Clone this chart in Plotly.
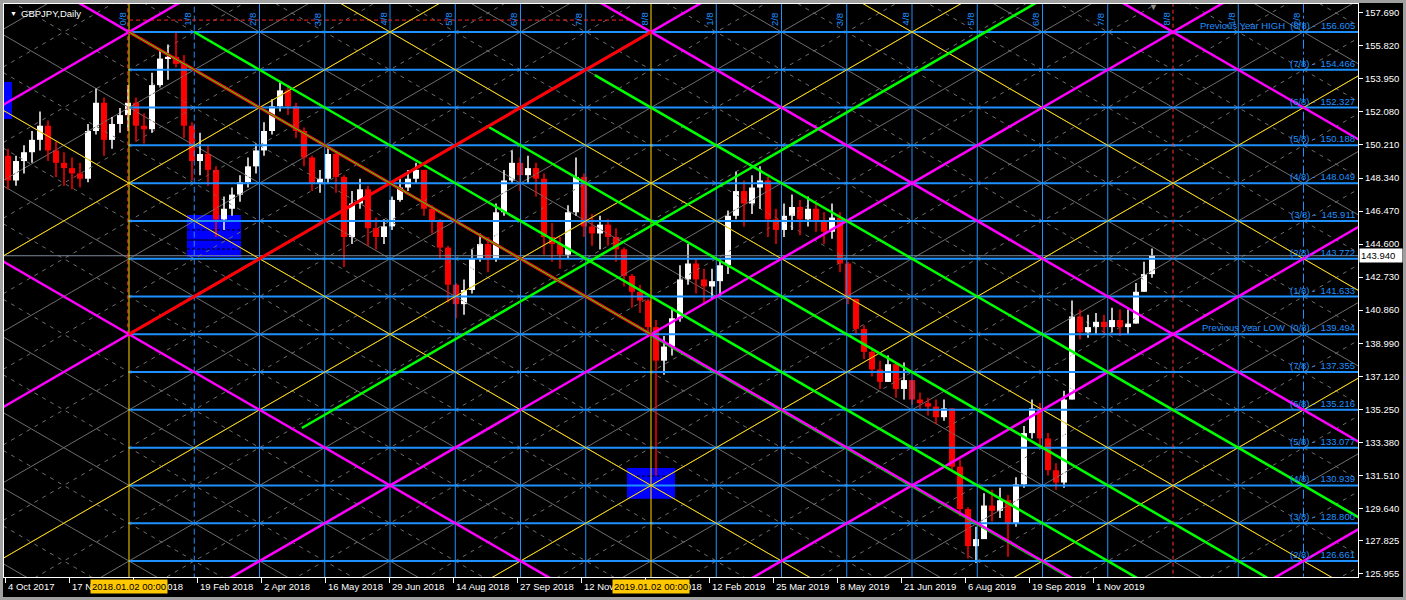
import plotly.graph_objects as go

# ---------------- data ----------------
BARS_PER_CANDLE = 4
first_open = 149.6
closes = [148.2,149.3,149.8,150.5,151.3,149.9,149.2,148.9,148.6,148.3,
          151.0,152.6,150.5,151.4,151.9,152.6,151.3,151.1,153.6,155.1,
          155.2,154.8,151.3,149.3,149.7,148.8,146.0,146.6,147.4,148.1,
          149.0,149.9,151.0,152.4,153.3,152.4,151.0,149.5,148.0,148.3,
          149.7,148.4,145.0,146.9,147.7,145.5,145.0,145.6,147.1,147.8,
          148.3,148.8,146.6,145.9,144.4,142.3,141.2,142.0,143.8,144.6,
          143.8,146.4,148.2,149.2,148.5,148.9,148.3,145.0,144.6,144.0,
          146.4,148.4,145.6,145.2,145.7,145.0,144.3,142.8,141.9,141.4,
          139.9,138.0,138.8,140.4,142.6,143.5,142.6,142.2,142.5,143.4,
          146.2,147.6,146.9,147.8,148.2,146.0,145.4,146.2,146.7,146.0,
          146.6,145.9,145.3,146.1,143.5,141.5,139.8,138.5,137.5,136.8,
          137.8,136.4,136.9,135.8,135.6,135.4,134.8,135.3,132.0,129.6,
          127.5,127.9,129.8,129.5,130.1,128.8,131.0,133.9,135.3,133.6,
          131.8,131.1,135.8,140.5,139.6,139.9,140.2,139.9,140.3,139.9,
          140.1,141.9,142.9,143.94]
highs = [150.0,149.6,150.2,151.0,152.1,151.6,150.4,149.8,149.5,149.2,
         151.4,153.4,152.9,151.8,152.3,153.6,152.9,152.0,154.3,155.6,
         155.9,156.62,155.3,151.5,150.9,150.2,149.0,147.3,147.8,148.5,
         149.5,150.3,151.5,152.8,153.75,153.6,152.6,151.2,149.6,148.8,
         150.1,149.9,148.5,147.6,148.3,147.9,146.1,146.0,147.3,148.3,
         148.8,149.2,148.8,146.8,146.0,144.5,142.4,142.6,144.3,145.2,
         145.0,146.9,148.8,149.9,149.5,149.6,149.2,148.6,145.8,145.0,
         146.8,149.5,148.6,146.3,146.2,146.0,145.5,144.4,142.9,142.3,
         141.5,140.3,139.4,141.0,143.4,144.6,143.8,143.2,143.2,143.8,
         146.5,148.7,148.2,148.5,149.0,148.4,146.6,146.9,147.4,147.1,
         147.3,146.9,146.4,146.9,146.4,143.6,141.5,140.0,138.7,138.0,
         138.3,137.9,137.9,136.9,136.2,135.9,135.8,135.8,135.0,132.4,
         129.7,128.6,130.5,130.7,130.8,130.4,131.4,134.3,135.8,135.6,
         133.9,132.2,136.3,141.4,140.9,140.6,140.7,140.6,141.0,140.9,
         140.9,142.4,143.6,144.35]
lows = [147.7,147.9,148.6,149.2,149.9,149.3,148.4,147.9,147.7,147.8,
        148.1,150.8,149.6,150.0,150.9,151.0,150.4,150.3,150.9,153.5,
        153.9,154.6,150.6,148.2,148.5,147.9,145.0,145.4,146.2,147.0,
        147.8,148.6,149.6,150.8,152.1,151.9,150.6,149.0,147.6,147.5,
        148.0,147.5,143.3,144.6,146.6,144.5,144.3,144.6,145.4,147.0,
        147.6,148.0,146.2,145.2,143.8,141.3,140.4,140.6,141.8,143.6,
        143.0,143.6,146.2,148.0,147.6,148.0,147.3,144.0,143.6,143.2,
        143.8,146.2,145.0,144.5,144.3,144.5,143.6,142.2,141.0,140.7,
        139.5,131.5,137.2,138.3,140.2,142.3,141.8,141.3,141.5,141.6,
        142.9,146.0,145.6,146.3,146.6,145.0,144.6,145.0,145.4,145.1,
        145.6,145.3,144.6,144.9,143.0,141.2,139.5,138.1,137.1,136.4,
        136.9,135.9,135.8,135.5,135.2,134.9,134.4,134.6,131.8,129.2,
        126.8,126.55,127.9,128.9,129.1,126.9,128.6,130.8,133.6,133.2,
        131.5,130.7,130.8,135.8,139.2,139.3,139.5,139.5,139.6,139.4,
        139.5,140.2,141.9,142.7]

murrey_levels = [156.605,154.466,152.327,150.188,148.049,145.911,143.772,141.633,
                 139.494,137.355,135.216,133.077,130.939,128.800,126.661]
murrey_names = ["(8/8)","(7/8)","(6/8)","(5/8)","(4/8)","(3/8)","(2/8)","(1/8)",
                "(0/8)","(7/8)","(6/8)","(5/8)","(4/8)","(3/8)","(2/8)"]
murrey_prefix = {0: "Previous Year HIGH", 8: "Previous Year LOW"}

price_ticks = [157.690,155.820,153.950,152.080,150.210,148.340,146.470,144.600,142.730,
               140.860,138.990,137.120,135.250,133.380,131.510,129.640,127.825,125.955]
date_idx = [0,32,64,96,128,160,192,224,256,288,320,352,384,416,448,480,512,544]
date_labels = ["4 Oct 2017","17 Nov 2017","4 Jan 2018","19 Feb 2018","2 Apr 2018",
               "16 May 2018","29 Jun 2018","14 Aug 2018","27 Sep 2018","12 Nov 2018",
               "27 Dec 2018","12 Feb 2019","25 Mar 2019","8 May 2019","21 Jun 2019",
               "6 Aug 2019","19 Sep 2019","1 Nov 2019"]
year_marks = [(62, "2018.01.02 00:00"), (323, "2019.01.02 00:00")]
bid_price = 143.940
prev_high_line = (62, 314, 157.28)

# Gann / Murrey time grid: 0/8 on 2018.01.02 (bar 62), 8/8 one year (261 bars) later
T0 = 62
TU = 261 / 8
P8 = 156.605
PS = (156.605 - 139.494) / 8
time_labels = ["0/8","1/8","2/8","3/8","4/8","5/8","6/8","7/8","8/8",
               "1/8","2/8","3/8","4/8","5/8","6/8","7/8","8/8","1/8","2/8"]

magenta_up = [0, 8, 16, 24, 32]
magenta_dn = [8, 0, -8, -16]
yellow_up = [4, 12, 20, 28]
yellow_dn = [4, -4, -12]
green_dn = [(-1, 1.0), (-3, 5.5), (-6, 7.14)]
green_up = [(13.13, 2.65)]

blue_rects = [(-6, 3.5, 151.68, 153.78), (91, 118, 143.87, 146.25), (311, 335, 130.18, 131.93)]

# ---------------- figure ----------------
FONT = "Liberation Sans, Arial, sans-serif"
BLUE = "#1e90ff"
fig = go.Figure()


def pt(u, v):
    return T0 + TU * u, P8 - PS * v


def up(c, u0, u1):
    return [pt(u0, c - u0), pt(u1, c - u1)]


def dn(c, u0, u1):
    return [pt(u0, c + u0), pt(u1, c + u1)]


def add_lines(segs, color, width, dash="solid"):
    xs, ys = [], []
    for (x0, y0), (x1, y1) in segs:
        xs += [x0, x1, None]
        ys += [y0, y1, None]
    fig.add_trace(go.Scatter(x=xs, y=ys, mode="lines", hoverinfo="skip", showlegend=False,
                             line=dict(color=color, width=width, dash=dash)))


ULO, UHI = -3, 21
# gray lattice
add_lines([up(c, ULO, UHI) for c in range(-4, 36, 2)] + [dn(c, ULO, UHI) for c in range(-22, 20, 2)],
          "#6e6e6e", 1)
add_lines([up(c, ULO, UHI) for c in range(-3, 35, 2)] + [dn(c, ULO, UHI) for c in range(-21, 19, 2)],
          "#6e6e6e", 1, "4px,5px")

# candles
B = BARS_PER_CANDLE
opens = [first_open] + closes[:-1]
for bull, col in [(True, "#ffffff"), (False, "#ff0000")]:
    wx, wy, bx, bb, bh = [], [], [], [], []
    for k, (o, h, l, c) in enumerate(zip(opens, highs, lows, closes)):
        if (c >= o) != bull:
            continue
        xc = k * B + (B - 1) / 2
        wx += [xc, xc, None]
        wy += [min(l, o, c), max(h, o, c), None]
        bx.append(xc)
        bb.append(min(o, c))
        bh.append(max(abs(c - o), 0.06))
    fig.add_trace(go.Scatter(x=wx, y=wy, mode="lines", line=dict(color=col, width=1.5),
                             hoverinfo="skip", showlegend=False))
    fig.add_trace(go.Bar(x=bx, y=bh, base=bb, width=B * 0.75, marker=dict(color=col, line=dict(width=0)),
                         hoverinfo="skip", showlegend=False))

# bid line
add_lines([((-1, bid_price), (700, bid_price))], "#7a8a99", 1)
# Murrey horizontal levels
add_lines([((T0, p), (700, p)) for p in murrey_levels], BLUE, 2)
# time lines
solid_v, dash_v, dd_v = [], [], []
for n in range(1, 20):
    if n in (8, 16):
        continue
    x = T0 + TU * n
    seg = ((x, 120), (x, 160))
    if n == 1:
        dash_v.append(seg)
    elif n == 18:
        dd_v.append(seg)
    else:
        solid_v.append(seg)
add_lines(solid_v, BLUE, 1)
add_lines(dash_v, BLUE, 1, "6px,3px")
add_lines(dd_v, BLUE, 1, "dashdot")
add_lines([((T0 - 0.6, 139.494), (T0 - 0.6, 160)), ((T0 + TU * 16, 120), (T0 + TU * 16, 160))],
          "#ff3030", 1, "4px,3px")
add_lines([((T0, 120), (T0, 160)), ((T0 + TU * 8, 120), (T0 + TU * 8, 160))], "#ffd700", 1)
add_lines([((prev_high_line[0], prev_high_line[2]), (prev_high_line[1], prev_high_line[2]))],
          "#ff2020", 1, "4px,3px")

# diagonal Gann lines
add_lines([up(c, ULO, UHI) for c in yellow_up] + [dn(c, ULO, UHI) for c in yellow_dn], "#ffd700", 1)
add_lines([up(c, ULO, UHI) for c in magenta_up] + [dn(c, ULO, UHI) for c in magenta_dn], "#ff00ff", 2.5)
add_lines([dn(c, u0, UHI) for c, u0 in green_dn] + [up(c, u0, UHI) for c, u0 in green_up], "#00ff00", 2.5)
add_lines([up(8, 0, 8), dn(0, 0, 8)], "#ff0000", 3)
add_lines([dn(0, 0, 8)], "#00ff00", 1)
add_lines([[(x, y - 0.1) for x, y in dn(0, 8, UHI)]], "#00d000", 1)

# rectangles
shapes = []
for x0, x1, y0, y1 in blue_rects:
    shapes.append(dict(type="rect", xref="x", yref="y", x0=x0, x1=x1, y0=y0, y1=y1,
                       fillcolor="#0000ff", line=dict(width=0), layer="below"))
shapes.append(dict(type="line", xref="x", yref="y", x0=91, x1=118, y0=144.83, y1=144.83,
                   line=dict(color="black", width=1), layer="below"))
for yy in (145.40, 144.32):
    shapes.append(dict(type="line", xref="x", yref="y", x0=91, x1=118, y0=yy, y1=yy,
                       line=dict(color="black", width=1, dash="3px,2px"), layer="below"))
shapes.append(dict(type="line", xref="x", yref="y", x0=316, x1=330, y0=131.47, y1=131.47,
                   line=dict(color="black", width=1, dash="3px,2px"), layer="below"))
# outer window frame
shapes.append(dict(type="rect", xref="paper", yref="paper",
                   x0=(1.5 - 4) / 1354, x1=(1404.5 - 4) / 1354,
                   y0=(577 - 598.5) / 573, y1=(577 - 1.5) / 573,
                   line=dict(color="#a0a0a0", width=3), fillcolor="rgba(0,0,0,0)"))

ann = []
# Murrey labels
for i, (p, nm) in enumerate(zip(murrey_levels, murrey_names)):
    txt = f"{nm} -\u00a0 {p:.3f}"
    if i in murrey_prefix:
        txt = murrey_prefix[i] + "\u00a0 " + txt
    ann.append(dict(xref="paper", x=1, xanchor="right", xshift=-1, yref="y", y=p, yanchor="bottom",
                    yshift=-1, text=txt, showarrow=False, font=dict(family=FONT, size=9.5, color=BLUE)))
# time labels
for n, t in enumerate(time_labels):
    ann.append(dict(xref="x", x=T0 + TU * n, xshift=-7, yref="paper", y=1, yanchor="top", yshift=-7,
                    text=t, textangle=-90, showarrow=False, font=dict(family=FONT, size=9.5, color=BLUE)))
# date labels
for xi, t in zip(date_idx, date_labels):
    ann.append(dict(xref="x", x=xi, xanchor="left", xshift=1, yref="paper", y=0, yanchor="top", yshift=-2,
                    text=t, showarrow=False, font=dict(family=FONT, size=9.5, color="#ffffff")))
for xi, t in year_marks:
    ann.append(dict(xref="x", x=xi, xanchor="center", yref="paper", y=0, yanchor="top", yshift=-2,
                    text=t, showarrow=False, bgcolor="#ffc800", borderpad=1,
                    font=dict(family=FONT, size=9.5, color="#000000")))
# bid label
ann.append(dict(xref="paper", x=1, xanchor="left", xshift=1, yref="y", y=bid_price, yanchor="middle",
                text=f"{bid_price:.3f}", showarrow=False, bgcolor="#ffffff", borderpad=1, width=40, align="left",
                font=dict(family=FONT, size=9.5, color="#000000")))
# title
ann.append(dict(xref="paper", x=0, xanchor="left", xshift=15, yref="paper", y=1, yanchor="middle", yshift=-9,
                text="GBPJPY,Daily", showarrow=False, font=dict(family=FONT, size=9.5, color="#ffffff")))
ann.append(dict(xref="paper", x=0, xanchor="left", xshift=4, yref="paper", y=1, yanchor="middle", yshift=-9,
                text="\u25bc", showarrow=False, font=dict(family=FONT, size=7, color="#ffffff")))
ann.append(dict(xref="paper", x=(1153 - 4) / 1354, xanchor="center", yref="paper", y=1, yanchor="middle",
                yshift=-3, text="\u25bc", showarrow=False, font=dict(family=FONT, size=9, color="#909090")))

fig.update_layout(
    width=1406, height=600, margin=dict(l=4, r=48, t=4, b=23),
    paper_bgcolor="black", plot_bgcolor="black", barmode="overlay", showlegend=False,
    shapes=shapes, annotations=ann,
    xaxis=dict(range=[-0.5, 676.5], showgrid=False, zeroline=False, showline=True, linecolor="#ffffff",
               linewidth=1, mirror=True, ticks="outside", ticklen=5, tickcolor="#ffffff",
               tickvals=date_idx, showticklabels=False, fixedrange=True),
    yaxis=dict(range=[125.755, 158.19], side="right", showgrid=False, zeroline=False, showline=True,
               linecolor="#ffffff", linewidth=1, mirror=True, ticks="outside", ticklen=4,
               tickcolor="#ffffff", tickvals=price_ticks, ticktext=[f"{p:.3f}" for p in price_ticks],
               tickfont=dict(family=FONT, size=9.5, color="#ffffff"), fixedrange=True),
)
fig.write_html("out.html", config={"displayModeBar": False},
               post_script="document.body.style.margin='0px';document.body.style.background='black';")
